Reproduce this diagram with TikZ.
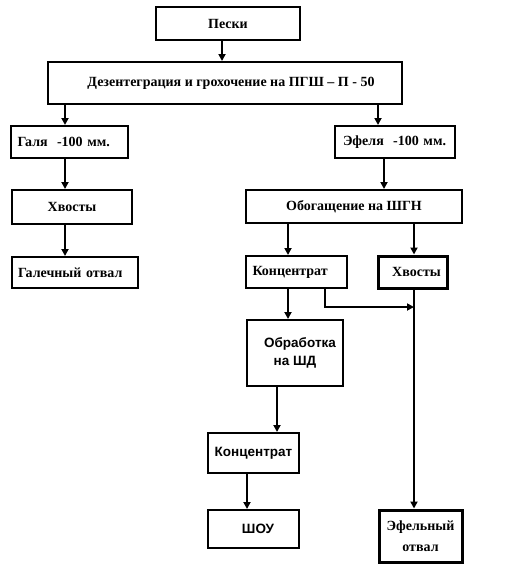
\documentclass[tikz,border=0pt]{standalone}
\usepackage{fontspec}
\setmainfont{Liberation Serif}
\newfontfamily\sansb{Liberation Sans}
\usetikzlibrary{arrows.meta}
\tikzset{
  box/.style={draw, line width=2pt, inner sep=0pt, font=\fontsize{14}{16}\selectfont\bfseries},
  sbox/.style={box, font=\sansb\fontsize{13.5}{18.5}\selectfont\bfseries},
  thickbox/.style={box, line width=3pt},
  arr/.style={line width=2pt, -{Triangle[length=7pt,width=7pt]}},
  ln/.style={line width=2pt}
}
\begin{document}
\begin{tikzpicture}[x=1pt,y=-1pt]
\useasboundingbox[fill=white] (0,0) rectangle (508,581);
\node[box, minimum width=144, minimum height=33] (peski) at (228,23.5) {Пески};
\node[box, minimum width=354, minimum height=42] (dez) at (225,83) {\raisebox{3pt}{\hspace{12pt}Дезентеграция и грохочение на ПГШ -- П - 50}};
\node[box, minimum width=117, minimum height=32, text width=112, align=left] (galya) at (69.5,142) {\hspace{4pt}Галя\ \ -100 мм.};
\node[box, minimum width=120, minimum height=32, text width=114, align=left] (efelya) at (395,142) {\hspace{5pt}Эфеля\ \ -100 мм.};
\node[box, minimum width=120, minimum height=34] (hv1) at (72,207) {Хвосты};
\node[box, minimum width=126, minimum height=31, text width=120, align=left] (gal) at (75,272.5) {\hspace{3pt}Галечный отвал};
\node[box, minimum width=216, minimum height=33] (obog) at (354,206.5) {Обогащение на ШГН};
\node[box, minimum width=101, minimum height=32, text width=96, align=left] (konc1) at (296.5,272) {\hspace{4pt}Концентрат};
\node[thickbox, minimum width=69, minimum height=32] (hv2) at (412.5,272) {\hspace{8pt}Хвосты};
\node[sbox, minimum width=96, minimum height=66, align=center] (obr) at (295,353) {\hspace{10pt}Обработка\\\hspace{0pt}на ШД};
\node[sbox, minimum width=91, minimum height=40] (konc2) at (253.5,453) {Концентрат};
\node[sbox, minimum width=91, minimum height=38] (shou) at (253.5,529) {\hspace{9pt}ШОУ};
\node[thickbox, minimum width=83, minimum height=52, align=center, font=\fontsize{14}{21}\selectfont\bfseries] (efot) at (420.5,536) {Эфельный\\отвал};
\coordinate (br1) at (325,307);
\draw[arr] (peski.south -| 222,0) -- (dez.north -| 222,0);
\draw[arr] (dez.south -| 65,0) -- (galya.north -| 65,0);
\draw[arr] (dez.south -| 378,0) -- (efelya.north -| 378,0);
\draw[arr] (galya.south -| 65,0) -- (hv1.north -| 65,0);
\draw[arr] (hv1.south -| 65,0) -- (gal.north -| 65,0);
\draw[arr] (efelya.south -| 384,0) -- (obog.north -| 384,0);
\draw[arr] (obog.south -| 288,0) -- (konc1.north -| 288,0);
\draw[arr] (obog.south -| 414,0) -- (hv2.north -| 414,0);
\draw[arr] (konc1.south -| 288,0) -- (obr.north -| 288,0);
\draw[arr] (konc1.south -| br1) -- (br1) -- (br1 -| 414,0);
\draw[arr] (hv2.south -| 414,0) -- (efot.north -| 414,0);
\draw[arr] (obr.south -| 277,0) -- (konc2.north -| 277,0);
\draw[arr] (konc2.south -| 247,0) -- (shou.north -| 247,0);
\end{tikzpicture}
\end{document}
